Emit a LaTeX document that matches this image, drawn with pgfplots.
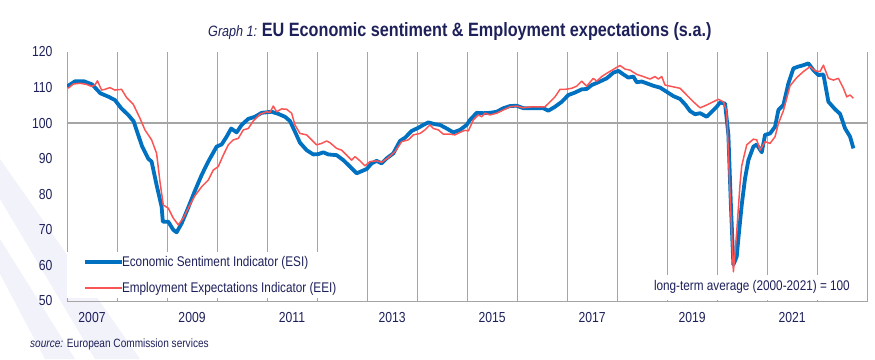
\documentclass[border=0pt]{standalone}
\usepackage{fontspec}
\setmainfont{Liberation Sans}[FakeStretch=0.84]
\usepackage{pgfplots}
\pgfplotsset{compat=1.18}
\definecolor{esiblue}{RGB}{0,112,192}
\definecolor{eeired}{RGB}{250,85,85}
\definecolor{navy}{RGB}{30,32,90}
\definecolor{gridgray}{RGB}{165,165,165}
\definecolor{stripe}{RGB}{241,242,250}
\begin{document}
\begin{tikzpicture}[x=1pt,y=1pt]
\useasboundingbox (0,0) rectangle (875,359);
\fill[stripe] (0,200) -- (0,160) -- (95,0) -- (140,0) -- cycle;
\fill[stripe] (0,120) -- (0,85) -- (45,0) -- (75,0) -- cycle;
\begin{axis}[at={(67pt,58pt)}, anchor=south west, scale only axis,
  width=801pt, height=249pt,
  xmin=0, xmax=192.2, ymin=50, ymax=120,
  axis x line*=bottom, axis y line*=left,
  axis line style={gridgray, line width=1pt, -},
  xtick={6,30,...,174},
  xticklabels={2007,2009,2011,2013,2015,2017,2019,2021},
  minor xtick={0,12,...,192},
  xminorgrids,
  minor x grid style={gridgray, line width=0.8pt},
  major tick length=0pt, minor tick length=4pt, tick align=inside,
  minor tick style={gridgray, line width=0.8pt},
  ytick={50,60,...,120},
  extra y ticks={100}, extra y tick labels={},
  extra y tick style={grid=major},
  major grid style={gridgray, line width=2pt},
  tick label style={font=\fontsize{14.5}{17}\selectfont, text=navy},
  yticklabel style={anchor=east, xshift=-11pt},
  xticklabel style={yshift=-8pt},
  /pgf/number format/assume math mode=true,
  legend style={at={(0,0)}, anchor=south west, yshift=3pt, fill=white, draw=none,
    font=\fontsize{14}{16}\selectfont, text=navy, inner xsep=16pt, inner ysep=2pt,
    row sep=10.6pt, column sep=0pt,
    /tikz/every odd column/.append style={column sep=-4pt}},
  legend cell align=left,
  legend image code/.code={\draw[#1] (0pt,0pt) -- (37pt,0pt);},
]
\addplot[esiblue, line width=3.8pt, line join=round] coordinates {
(0,110.3)(2,111.8)(4,111.8)(6,110.9)(8,108.4)(10,107.4)(11.5,106.5)(13,104.2)
(14.7,102.3)(16,100.5)(17,97)(18,93.5)(19.5,90)(20.3,89.2)(21.5,82.6)(22.7,76.5)
(23,72.3)(24.3,72.3)(25.5,70)(26.3,69.3)(27.5,71.8)(29,76)(30.7,81)(32.3,85.4)
(33.9,89.2)(35.9,93.4)(37.1,94)(38.3,96.2)(39.4,98.5)(40.7,97.4)(41.9,99.5)
(43.5,101.2)(45.1,101.8)(46.7,102.9)(49.1,103.2)(50.7,102.6)(52.3,101.8)(53.5,100.6)
(54.7,97.6)(55.9,94.5)(57.5,92.4)(59.1,91.2)(60.3,91.3)(61.5,91.8)(62.7,91.2)
(64.7,91)(66.3,89.6)(67.9,87.8)(69.5,85.9)(70.7,86.5)(71.9,87.1)(73.1,88.7)
(74.3,89.4)(75.5,88.7)(76.7,90.1)(78.3,91.5)(79.9,95)(81.1,95.9)(82.7,97.8)
(84.3,98.7)(85.5,99.5)(86.7,100.2)(88.3,99.7)(89.5,99.5)(91.1,98.5)(92.7,97.4)
(94.3,98.1)(95.9,99.5)(96.7,100.9)(98.3,102.9)(99.9,102.8)(101.5,102.9)(103.1,103.2)
(104.7,104.2)(106.3,104.8)(107.9,104.9)(109.5,104.2)(111.1,104.2)(112.7,104.2)
(114.3,104.2)(115.5,103.5)(117.1,104.6)(118.7,106)(120.3,107.9)(121.9,108.6)
(123.5,109.5)(124.7,109.6)(125.9,110.7)(127.5,111.5)(129.5,112.6)(131.1,114.2)
(132.3,114.7)(133.5,113.7)(134.7,112.8)(135.9,113.1)(136.7,111.5)(137.9,111.7)
(139.1,111.2)(140.7,110.5)(142.3,110)(143.9,108.8)(145.5,107.6)(147.1,106.8)
(148.3,105.3)(149.5,103.4)(150.7,102.5)(151.9,102.8)(153.5,101.8)(154.7,103.2)
(155.9,104.6)(156.7,105.8)(157.9,105.5)(158.7,96.7)(159.3,77)(159.9,60.2)
(160.7,62.5)(161.1,67.6)(161.9,77)(162.7,84.5)(163.5,89.6)(164.7,93.4)(165.5,94)
(166.7,91.8)(167.5,96.7)(168.7,97.1)(169.9,99)(170.7,103.7)(171.9,105.1)
(173.1,111.2)(174.3,115.4)(175.5,115.9)(176.7,116.3)(177.9,116.8)(179.1,114.9)
(180.3,113.5)(181.5,113.7)(182.7,106)(184.3,103.9)(185.5,102.6)(186.7,98.5)
(187.9,96.2)(188.7,92.9)
};
\addlegendentry{Economic Sentiment Indicator (ESI)}
\addplot[eeired, line width=1.5pt, line join=round] coordinates {
(0.3,109.8)(1.5,111)(3.1,111.2)(4.7,110.9)(5.9,110.3)(6.7,110.7)(7.3,111.9)
(8.3,109.3)(9.1,109.5)(10.3,110)(11.5,109.3)(13.1,109.5)(14.3,107.2)(15.9,105.3)
(17.5,101.4)(18.7,98.1)(20.3,95.3)(21.5,91.5)(22.3,83.6)(23.1,77)(24.3,76.1)
(25.5,73.3)(26.7,71.4)(27.9,73.3)(29.5,77)(30.7,79.6)(32.3,82.1)(33.9,84)
(35.1,86.8)(36.3,87.8)(37.5,91)(38.7,93.9)(39.9,95.3)(41.1,95.7)(42.3,98.1)
(43.5,98.5)(44.7,100.6)(46.3,102.5)(47.9,103.2)(48.7,103)(49.5,104.8)(50.3,103.2)
(51.5,104)(52.7,103.9)(53.9,102.8)(54.7,99.5)(55.9,97.1)(57.5,96.7)(58.7,95.3)
(59.9,93.9)(61.1,94.3)(62.3,95)(63.1,94.5)(64.7,92.9)(65.9,92.4)(67.1,91)
(68.3,89.6)(69.1,90.6)(70.3,89.4)(71.5,88)(72.7,89.2)(74.3,89.4)(75.5,89)
(77.1,90.3)(78.7,92)(80.3,94.8)(81.9,95.3)(83.1,96.7)(84.7,97.1)(85.9,98.1)
(87.1,99.5)(87.9,98.5)(89.1,98.1)(90.3,96.9)(91.9,96.9)(93.1,96.7)(94.3,97.4)
(95.5,98)(96.3,97.8)(97.5,100.9)(98.7,102.3)(99.5,101.8)(100.3,102.8)(101.5,102.3)
(103.1,102.8)(104.7,103.7)(106.3,104.6)(107.9,104.8)(109.5,104.3)(111.5,104.6)
(113.5,104.6)(114.7,104.6)(115.9,106)(117.1,107.4)(118.3,109.5)(119.5,109.5)
(121.1,109.8)(122.3,110.4)(123.5,111.8)(124.7,110.4)(126.3,112.6)(127.1,111.8)
(128.3,113.1)(129.5,114)(131.5,115.4)(132.7,116.2)(133.9,115.2)(135.1,114.9)
(136.7,113.7)(138.3,113.1)(139.9,112.4)(141.1,113.1)(141.9,112.4)(142.7,113.1)
(143.5,110.7)(145.1,110.3)(147.1,109.8)(148.7,107.9)(150.3,106)(151.9,104.3)
(153.5,105.1)(154.7,105.8)(156.3,106.7)(157.5,106)(158.3,103.2)(159.1,79.8)
(159.9,58.2)(160.7,69.5)(161.5,83)(161.9,88)(163.1,93.9)(164.7,95.5)(165.5,95.3)
(166.3,92.4)(167.5,94.8)(168.7,94.3)(169.9,96.2)(170.7,99.9)(171.9,103.5)
(172.7,107)(173.5,110.5)(175.1,112.8)(176.7,114.5)(178.3,115.9)(179.5,114.7)
(180.7,114.5)(181.5,116.3)(182.7,112.6)(183.9,112.1)(185.1,112.6)(186.3,109.8)
(187.1,107.4)(187.9,107.9)(188.7,107)
};
\addlegendentry{Employment Expectations Indicator (EEI)}
\end{axis}
\node[anchor=east, fill=white, text=navy, font=\fontsize{14}{16}\selectfont,
  minimum height=25pt, inner xsep=2pt] at (852,72) {long-term average (2000-2021) = 100};
\node[anchor=base west, inner sep=0, text=navy] at (208,322)
  {{\fontsize{15}{18}\selectfont\itshape Graph 1: }{\fontsize{19.3}{22}\selectfont\bfseries EU Economic sentiment \& Employment expectations (s.a.)}};
\node[anchor=base west, inner sep=0, text=navy, font=\fontsize{12}{14}\selectfont] at (30,12)
  {\textit{source:} European Commission services};
\end{tikzpicture}
\end{document}
